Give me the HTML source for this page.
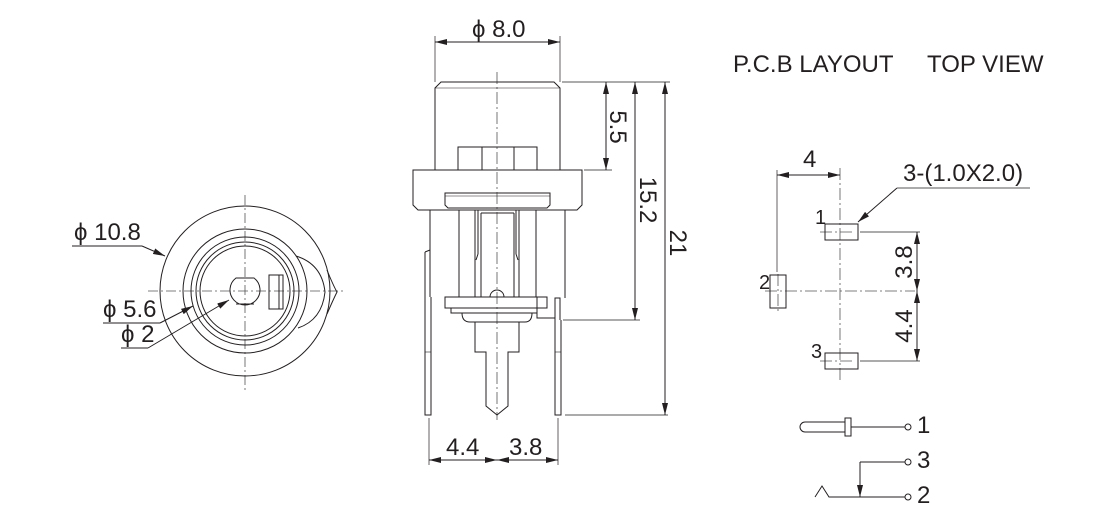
<!DOCTYPE html>
<html><head><meta charset="utf-8"><style>
html,body{margin:0;padding:0;background:#fff;}
#w{position:relative;width:1120px;height:524px;overflow:hidden;}
svg{display:block;position:absolute;left:0;top:0;}
.l{position:absolute;font-family:"Liberation Sans",sans-serif;color:#231f20;font-size:24px;line-height:1;white-space:nowrap;}
.r{transform:translate(-50%,-50%) rotate(90deg);}
.rn{transform:translate(-50%,-50%) rotate(-90deg);}
</style></head><body><div id="w">
<svg width="1120" height="524" viewBox="0 0 1120 524" xmlns="http://www.w3.org/2000/svg">
<defs>
<marker id="a" viewBox="0 0 12 6" refX="12" refY="3" markerWidth="12" markerHeight="6" markerUnits="userSpaceOnUse" orient="auto-start-reverse"><path d="M0,0 L12,3 L0,6 z" fill="#231f20"/></marker>
</defs>
<g fill="none" stroke="#231f20" stroke-width="1">
<g stroke="#555" stroke-dasharray="10,3,2,3" stroke-width="0.8">
<line x1="245" y1="195" x2="245" y2="392"/>
<line x1="148" y1="291" x2="345" y2="291"/>
</g>
<circle cx="245" cy="291" r="85"/>
<circle cx="245" cy="291" r="62"/>
<circle cx="245" cy="291" r="54"/>
<circle cx="245" cy="291" r="49"/>
<circle cx="245" cy="291" r="45"/>
<path d="M236,278 A15,15 0 1 0 254,278 Z"/>
<path d="M236,278 L254,278 M236,304 L254,304"/>
<rect x="269" y="275" width="14" height="34"/>
<line x1="279" y1="275" x2="279" y2="309"/>
<path d="M296,256 Q322,264 325,292 Q322,320 298,328"/>
<path d="M327,270 Q333,285 337,292 Q333,300 327,314"/>
<line x1="72" y1="246" x2="142" y2="246"/>
<line x1="142" y1="246" x2="165" y2="256" marker-end="url(#a)"/>
<line x1="103" y1="323" x2="160" y2="323"/>
<line x1="160" y1="323" x2="193" y2="306" marker-end="url(#a)"/>
<line x1="121" y1="348" x2="148" y2="348"/>
<line x1="148" y1="348" x2="229" y2="300" marker-end="url(#a)"/>

<line x1="497" y1="72" x2="497" y2="420" stroke="#555" stroke-dasharray="12,3,2,3" stroke-width="0.8"/>
<path d="M435,170 L435,88 L441,82 L554,82 L560,88 L560,170"/>
<line x1="435" y1="88" x2="560" y2="88" stroke-width="0.6"/>
<rect x="458" y="147" width="79" height="23"/>
<line x1="482" y1="147" x2="482" y2="170"/><line x1="514" y1="147" x2="514" y2="170"/>
<path d="M413,170 L582,170 L582,205 L577,210 L418,210 L413,205 Z"/>
<path d="M445,193 L550,193 L550,205 L547,208 L448,208 L445,205 Z"/>
<line x1="445" y1="196" x2="550" y2="196" stroke-width="0.6"/>
<line x1="430" y1="210" x2="430" y2="297"/>
<line x1="565" y1="210" x2="565" y2="298"/>
<line x1="459" y1="210" x2="459" y2="297"/>
<line x1="536" y1="210" x2="536" y2="297"/>
<path d="M475,210 L475,297 M478,210 L478,254 M519,210 L519,297 M516,210 L516,254"/>
<path d="M481,213 L481,297 M514,213 L514,297 M481,213 L514,213"/>
<path d="M478,254 L476,260 M516,254 L518,260"/>
<path d="M490,297 A7,7 0 0 1 504,297"/>
<path d="M425,252 L430,250 M425,252 L425,415 L431,415 L431,297"/>
<line x1="425" y1="352" x2="431" y2="352" stroke-width="0.6"/>
<rect x="445" y="297" width="102" height="11"/>
<rect x="451" y="308" width="86" height="5"/>
<path d="M462,313 Q462,322 470,322 L525,322 Q532,322 532,313"/>
<path d="M537,297 L537,318 L555,318 L555,298 L560,298 L560,320"/>
<path d="M555,318 L555,415 L561,415 L561,320"/>
<line x1="555" y1="352" x2="561" y2="352" stroke-width="0.6"/>
<path d="M475,322 L475,352 L486,352 L486,406 L497,415 L508,406 L508,352 L519,352 L519,322"/>
<g stroke-width="0.7">
<line x1="435" y1="36" x2="435" y2="82"/><line x1="560" y1="36" x2="560" y2="82"/>
<line x1="562" y1="82" x2="670" y2="82"/>
<line x1="584" y1="170" x2="612" y2="170"/>
<line x1="563" y1="320" x2="640" y2="320"/>
<line x1="565" y1="415" x2="668" y2="415"/>
<line x1="429" y1="418" x2="429" y2="465"/>
<line x1="558" y1="418" x2="558" y2="465"/>
</g>
<line x1="435" y1="42" x2="560" y2="42" marker-start="url(#a)" marker-end="url(#a)"/>
<line x1="606" y1="82" x2="606" y2="170" marker-start="url(#a)" marker-end="url(#a)"/>
<line x1="635" y1="82" x2="635" y2="320" marker-start="url(#a)" marker-end="url(#a)"/>
<line x1="665" y1="82" x2="665" y2="415" marker-start="url(#a)" marker-end="url(#a)"/>
<line x1="429" y1="460" x2="497" y2="460" marker-start="url(#a)" marker-end="url(#a)"/>
<line x1="497" y1="460" x2="558" y2="460" marker-start="url(#a)" marker-end="url(#a)"/>

<g stroke="#555" stroke-dasharray="12,3,2,3" stroke-width="0.8">
<line x1="840" y1="168" x2="840" y2="380"/>
<line x1="765" y1="291" x2="915" y2="291"/>
<line x1="778" y1="274" x2="778" y2="312"/>
<line x1="820" y1="232" x2="855" y2="232"/>
<line x1="820" y1="361" x2="855" y2="361"/>
</g>
<line x1="777" y1="170" x2="777" y2="272" stroke-width="0.7"/>
<line x1="777" y1="175" x2="840" y2="175" marker-start="url(#a)" marker-end="url(#a)"/>
<rect x="825" y="224" width="33" height="16"/>
<rect x="770" y="275" width="16" height="33"/>
<rect x="825" y="353" width="33" height="16"/>
<line x1="860" y1="232" x2="920" y2="232" stroke-width="0.7"/>
<line x1="860" y1="361" x2="920" y2="361" stroke-width="0.7"/>
<line x1="917" y1="232" x2="917" y2="291" marker-start="url(#a)" marker-end="url(#a)"/>
<line x1="917" y1="291" x2="917" y2="361" marker-start="url(#a)" marker-end="url(#a)"/>
<line x1="897" y1="188" x2="1030" y2="188" stroke-width="0.7"/>
<line x1="897" y1="188" x2="858" y2="222" marker-end="url(#a)"/>

<path d="M845,422 L805,422 A5,5 0 0 0 805,432 L845,432"/>
<rect x="845" y="418" width="6" height="18"/>
<line x1="851" y1="427" x2="905" y2="427"/>
<circle cx="908" cy="427" r="3"/>
<line x1="860" y1="462" x2="905" y2="462"/>
<circle cx="908" cy="462" r="3"/>
<line x1="860" y1="462" x2="860" y2="497" marker-end="url(#a)"/>
<path d="M815,497 L822,486 L829,497 L905,497"/>
<circle cx="908" cy="497" r="3"/>
</g>
</svg>

<div class="l" style="left:472px;top:18px">ϕ 8.0</div>
<div class="l" style="left:74px;top:221px">ϕ 10.8</div>
<div class="l" style="left:103px;top:298px">ϕ 5.6</div>
<div class="l" style="left:121px;top:323px">ϕ 2</div>
<div class="l" style="left:446px;top:436px">4.4</div>
<div class="l" style="left:509px;top:436px">3.8</div>
<div class="l r" style="left:617px;top:127px">5.5</div>
<div class="l r" style="left:647px;top:200px">15.2</div>
<div class="l r" style="left:677px;top:243px">21</div>
<div class="l" style="left:803px;top:148px">4</div>
<div class="l" style="left:903px;top:162px">3-(1.0X2.0)</div>
<div class="l" style="left:815px;top:208px;font-size:20px">1</div>
<div class="l" style="left:759px;top:273px;font-size:20px">2</div>
<div class="l" style="left:811px;top:342px;font-size:20px">3</div>
<div class="l rn" style="left:905px;top:262px">3.8</div>
<div class="l rn" style="left:905px;top:326px">4.4</div>
<div class="l" style="left:917px;top:414px">1</div>
<div class="l" style="left:917px;top:449px">3</div>
<div class="l" style="left:917px;top:484px">2</div>
<div class="l" style="left:733px;top:53px">P.C.B LAYOUT</div>
<div class="l" style="left:927px;top:53px">TOP VIEW</div>
</div></body></html>
